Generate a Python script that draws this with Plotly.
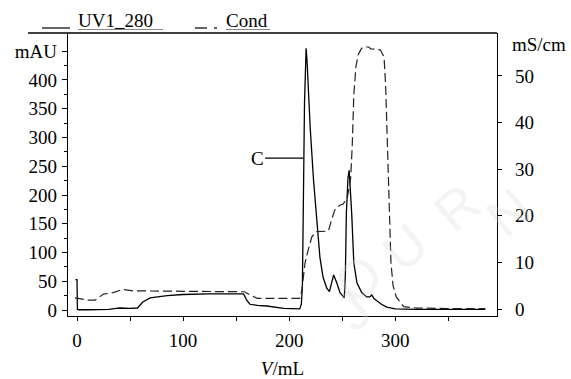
import plotly.graph_objects as go

# ---- data ----
uv_volume = [-1.5, 0, 0.4, 2, 10, 30, 37, 40, 50, 57, 62, 69, 85, 100, 125, 150, 155, 157,
             160, 163, 170, 179, 195, 205, 210, 211.5, 212.5, 213, 213.5, 214.5, 216, 217,
             218.5, 220, 223, 226, 229, 232, 235.5, 238, 240, 242, 245, 248, 252, 253, 254,
             255.5, 256.6, 258, 259, 261, 264, 268.6, 273, 276, 278, 280, 283, 287, 292,
             300, 320, 350, 385]
uv_mau = [53, 53, 1, 0.5, 0.5, 1, 3, 3.5, 3, 3.5, 14, 21, 25, 27, 28, 29, 29, 28,
          17, 10, 8, 7, 3, 2, 2, 10, 40, 120, 250, 360, 455, 430,
          370, 313, 226, 151, 92, 57, 38, 32, 45, 61, 47, 30, 21, 60, 170,
          230, 243, 200, 168, 82, 47, 30, 23, 23, 26, 20, 15, 10, 5,
          2, 1, 1, 1]

cond_volume = [-2, 10, 17, 25, 34, 43, 53, 66, 100, 155, 158, 163, 170, 190, 210, 212, 215,
               218, 221.4, 226, 237, 240, 243, 248, 251, 255, 258, 259.5, 261, 263, 265,
               268, 270, 275, 277, 286, 289.5, 291, 293, 296, 298, 301, 308, 320, 350, 385]
cond_ms = [2.4, 1.9, 1.9, 3.2, 3.5, 4.2, 3.9, 3.9, 3.8, 3.7, 3.7, 3.0, 2.3, 2.3, 2.3, 4, 9.9,
           12.7, 15.5, 16.6, 16.7, 19.1, 21.2, 22.3, 22.5, 24, 28, 35, 46, 52, 54.5,
           55.8, 56.2, 56.2, 55.8, 55.6, 54, 48, 31, 10, 5, 2.6, 0.5, 0.2, 0.1, 0.1]

x_tickvals = [0, 50, 100, 150, 200, 250, 300, 350]
x_ticktext = ["0", "", "100", "", "200", "", "300", ""]
y_tickvals = [0, 50, 100, 150, 200, 250, 300, 350, 400, 450]
y_ticktext = ["0", "50", "100", "150", "200", "250", "300", "350", "400", "mAU"]
y2_tickvals = [0, 10, 20, 30, 40, 50]
y2_ticktext = ["0", "10", "20", "30", "40", "50"]

FONT = "Liberation Serif"
FS = 19

fig = go.Figure()
fig.add_trace(go.Scatter(x=uv_volume, y=uv_mau, mode="lines", name="UV1_280",
                         line=dict(color="black", width=1.3), yaxis="y"))
fig.add_trace(go.Scatter(x=cond_volume, y=cond_ms, mode="lines", name="Cond",
                         line=dict(color="#222222", width=1.2, dash="9px,4px"), yaxis="y2"))

axis_common = dict(showline=True, linecolor="black", linewidth=1.3, showgrid=False,
                   zeroline=False, ticks="outside", tickcolor="black", automargin=False,
                   tickfont=dict(family=FONT, size=FS, color="black"))

fig.update_layout(
    width=571, height=379,
    margin=dict(l=68, r=74, t=33, b=63),
    paper_bgcolor="white", plot_bgcolor="white",
    showlegend=False,
    font=dict(family=FONT, size=FS, color="black"),
    xaxis=dict(range=[-8.5, 396], tickvals=x_tickvals, ticktext=x_ticktext,
               ticklen=4, tickwidth=1.2, ticklabelstandoff=3,
               title=dict(text="<i>V</i>/mL", font=dict(family=FONT, size=FS), standoff=19),
               **axis_common),
    yaxis=dict(range=[-10.4, 481.7], tickvals=y_tickvals, ticktext=y_ticktext,
               ticklen=5, tickwidth=1.2, ticklabelstandoff=1,
               minor=dict(tickvals=[25, 75, 125, 175, 225, 275, 325, 375, 425], ticklen=3,
                          ticks="outside", tickcolor="black", tickwidth=1),
               **axis_common),
    yaxis2=dict(range=[-1.5, 59.2], tickvals=y2_tickvals, ticktext=y2_ticktext,
                overlaying="y", side="right", ticklen=4, tickwidth=1.2,
                ticklabelstandoff=9, **axis_common),
)

# top border line (extends over legend area)
fig.add_shape(type="line", xref="paper", yref="paper", x0=-0.093, x1=1, y0=1, y1=1,
              line=dict(color="black", width=1.3))

# legend drawn as text + lines at the top
def px_x(p):
    return (p - 68) / 429.0

def px_y(p):
    return (316 - p) / 283.0

fig.add_shape(type="line", xref="paper", yref="paper", x0=px_x(42), x1=px_x(70),
              y0=px_y(28), y1=px_y(28), line=dict(color="black", width=1.2))
fig.add_shape(type="line", xref="paper", yref="paper", x0=px_x(78), x1=px_x(163),
              y0=px_y(29.5), y1=px_y(29.5), line=dict(color="#888888", width=1.2))
fig.add_shape(type="line", xref="paper", yref="paper", x0=px_x(195), x1=px_x(207),
              y0=px_y(28), y1=px_y(28), line=dict(color="black", width=1.2))
fig.add_shape(type="line", xref="paper", yref="paper", x0=px_x(214), x1=px_x(217),
              y0=px_y(28), y1=px_y(28), line=dict(color="black", width=1.2))
fig.add_shape(type="line", xref="paper", yref="paper", x0=px_x(226), x1=px_x(270),
              y0=px_y(29.5), y1=px_y(29.5), line=dict(color="#888888", width=1.2))

fig.add_annotation(xref="paper", yref="paper", x=px_x(77), y=px_y(32), xanchor="left",
                   yanchor="bottom", text="UV1_280", showarrow=False,
                   font=dict(family=FONT, size=FS, color="black"), borderpad=0)
fig.add_annotation(xref="paper", yref="paper", x=px_x(225), y=px_y(32), xanchor="left",
                   yanchor="bottom", text="Cond", showarrow=False,
                   font=dict(family=FONT, size=FS, color="black"), borderpad=0)

# right axis unit
fig.add_annotation(xref="paper", yref="paper", x=px_x(510), y=px_y(45), xanchor="left",
                   yanchor="middle", text="mS/cm", showarrow=False,
                   font=dict(family=FONT, size=FS, color="black"))

# peak label C
fig.add_annotation(x=213.2, y=264, xref="x", yref="y", text="C", showarrow=True,
                   arrowhead=0, arrowwidth=1.3, arrowcolor="black", ax=-46, ay=0,
                   font=dict(family=FONT, size=FS, color="black"))

# faint watermark letters
for ch, (cx, cy) in zip("JOURN", [(352, 345), (396, 318), (442, 285), (494, 245), (546, 212)]):
    fig.add_annotation(xref="paper", yref="paper", x=px_x(cx), y=px_y(cy), text=ch,
                       showarrow=False, textangle=-40,
                       font=dict(family="Liberation Sans", size=54, color="rgba(220,220,220,0.3)"))

fig.write_html("out.html")
